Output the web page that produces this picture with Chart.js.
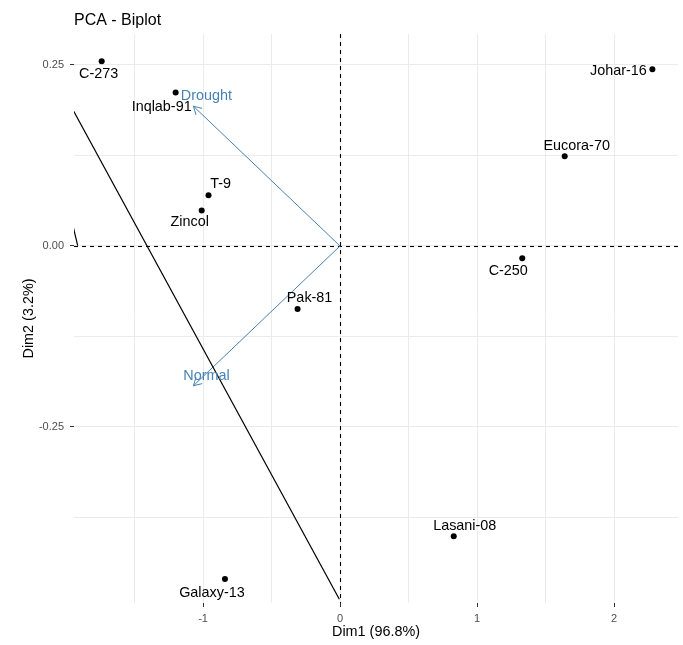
<!DOCTYPE html>
<html>
<head>
<meta charset="utf-8">
<script src="https://cdn.jsdelivr.net/npm/chart.js@4/dist/chart.umd.min.js"></script>
<style>
  html, body { margin: 0; padding: 0; background: #ffffff; }
  #wrap { width: 683px; height: 645px; position: relative; }
</style>
</head>
<body>
<div id="wrap"><canvas id="biplot" width="683" height="645"></canvas></div>
<script>
// Individuals (genotypes) scores on the first two principal components
const genotypes = ['C-273', 'Inqlab-91', 'T-9', 'Zincol', 'Johar-16', 'Eucora-70', 'C-250', 'Pak-81', 'Galaxy-13', 'Lasani-08'];
const dim1 = [-1.74, -1.20, -0.96, -1.01, 2.28, 1.64, 1.33, -0.31, -0.84, 0.83];
const dim2 = [0.255, 0.212, 0.070, 0.049, 0.244, 0.124, -0.017, -0.087, -0.460, -0.401];

// Variable loadings (arrows from the origin)
const variables = ['Drought', 'Normal'];
const varDim1 = [-1.07, -1.07];
const varDim2 = [0.193, -0.193];

// Pieces of the correlation circle that fall inside the panel
const arcMainX = [-1.947, -0.005];
const arcMainY = [0.187, -0.488];
const arcShortX = [-1.947, -1.915];
const arcShortY = [0.026, 0.0004];

// Axis ticks (gridlines at every value, labels only where given)
const xTicks = [-1.5, -1, -0.5, 0, 0.5, 1, 1.5, 2];
const xTickLabels = ['', '-1', '', '0', '', '1', '', '2'];
const yTicks = [-0.375, -0.25, -0.125, 0, 0.125, 0.25];
const yTickLabels = ['', '-0.25', '', '0.00', '', '0.25'];

const xRange = [-1.942, 2.467];
const yRange = [-0.4931, 0.2928];

const FONT = '"Liberation Sans", Arial, Helvetica, sans-serif';
const ARROW_COLOR = '#4682B4';

// Text placement of each genotype label relative to its point (px)
const labelShift = {
  'C-273': [-3, 13], 'Inqlab-91': [-14, 15], 'T-9': [12, -11], 'Zincol': [-12, 12],
  'Johar-16': [-34, 2], 'Eucora-70': [12, -10], 'C-250': [-14, 13], 'Pak-81': [12, -11],
  'Galaxy-13': [-13, 14], 'Lasani-08': [11, -10]
};
const varLabelShift = { 'Drought': [13, -10], 'Normal': [13, -10] };

const pairs = (xs, ys) => xs.map((x, i) => ({ x: x, y: ys[i] }));

const biplotPlugin = {
  id: 'biplotDecor',
  beforeDatasetsDraw(chart) {
    const { ctx, chartArea: a, scales: { x, y } } = chart;
    ctx.save();
    // dashed reference lines through the origin
    ctx.strokeStyle = '#000';
    ctx.lineWidth = 1.1;
    ctx.setLineDash([4, 4]);
    const x0 = Math.round(x.getPixelForValue(0)) + 0.5;
    const y0 = Math.round(y.getPixelForValue(0)) + 0.5;
    ctx.beginPath(); ctx.moveTo(a.left, y0); ctx.lineTo(a.right, y0); ctx.stroke();
    ctx.beginPath(); ctx.moveTo(x0, a.top); ctx.lineTo(x0, a.bottom); ctx.stroke();
    ctx.setLineDash([]);

    // loading arrows
    ctx.strokeStyle = ARROW_COLOR;
    ctx.lineWidth = 1;
    const ox = x.getPixelForValue(0), oy = y.getPixelForValue(0);
    variables.forEach((v, i) => {
      const tx = x.getPixelForValue(varDim1[i]);
      const ty = y.getPixelForValue(varDim2[i]);
      ctx.beginPath(); ctx.moveTo(ox, oy); ctx.lineTo(tx, ty); ctx.stroke();
      const ang = Math.atan2(ty - oy, tx - ox);
      const len = 9, spread = Math.PI / 6;
      ctx.beginPath();
      ctx.moveTo(tx - len * Math.cos(ang - spread), ty - len * Math.sin(ang - spread));
      ctx.lineTo(tx, ty);
      ctx.lineTo(tx - len * Math.cos(ang + spread), ty - len * Math.sin(ang + spread));
      ctx.stroke();
    });
    ctx.restore();
  },
  afterDatasetsDraw(chart) {
    const { ctx, chartArea: a, scales: { x, y } } = chart;
    ctx.save();
    ctx.font = '14.4px ' + FONT;
    ctx.textAlign = 'center';
    ctx.textBaseline = 'middle';
    ctx.fillStyle = '#000';
    genotypes.forEach((g, i) => {
      const s = labelShift[g];
      ctx.fillText(g, x.getPixelForValue(dim1[i]) + s[0], y.getPixelForValue(dim2[i]) + s[1]);
    });
    ctx.fillStyle = ARROW_COLOR;
    variables.forEach((v, i) => {
      const s = varLabelShift[v];
      ctx.fillText(v, x.getPixelForValue(varDim1[i]) + s[0], y.getPixelForValue(varDim2[i]) + s[1]);
    });

    // titles
    ctx.fillStyle = '#000';
    ctx.font = '16px ' + FONT;
    ctx.textAlign = 'left';
    ctx.textBaseline = 'alphabetic';
    ctx.fillText('PCA - Biplot', 74, 25);

    ctx.font = '14.4px ' + FONT;
    ctx.textAlign = 'center';
    ctx.textBaseline = 'middle';
    ctx.fillText('Dim1 (96.8%)', (a.left + a.right) / 2, 632);
    ctx.translate(29, (a.top + a.bottom) / 2);
    ctx.rotate(-Math.PI / 2);
    ctx.fillText('Dim2 (3.2%)', 0, 0);
    ctx.restore();
  }
};

const tickMarkColor = (labels, ticks) => (c) => {
  if (!c.tick) return 'rgba(0,0,0,0)';
  const k = ticks.indexOf(c.tick.value);
  return k >= 0 && labels[k] !== '' ? '#333333' : 'rgba(0,0,0,0)';
};

new Chart(document.getElementById('biplot'), {
  type: 'scatter',
  data: {
    datasets: [
      {
        type: 'line', data: pairs(arcMainX, arcMainY),
        borderColor: '#000', borderWidth: 1.2, pointRadius: 0, fill: false, tension: 0
      },
      {
        type: 'line', data: pairs(arcShortX, arcShortY),
        borderColor: '#000', borderWidth: 1.2, pointRadius: 0, fill: false, tension: 0
      },
      {
        data: pairs(dim1, dim2),
        backgroundColor: '#000', borderColor: '#000', pointRadius: 3, pointHoverRadius: 3, borderWidth: 0
      }
    ]
  },
  options: {
    responsive: false,
    animation: false,
    events: [],
    layout: { padding: { left: 0, right: 5, top: 34, bottom: 0 } },
    plugins: { legend: { display: false }, tooltip: { enabled: false }, title: { display: false } },
    scales: {
      x: {
        type: 'linear', min: xRange[0], max: xRange[1],
        afterBuildTicks: (s) => { s.ticks = xTicks.map(v => ({ value: v })); },
        afterFit: (s) => { s.height = 42; },
        border: { display: false },
        grid: { color: '#ebebeb', lineWidth: 1, drawTicks: true, tickLength: 4, tickColor: tickMarkColor(xTickLabels, xTicks) },
        ticks: {
          autoSkip: false, maxRotation: 0, padding: 5, color: '#4d4d4d',
          font: { family: FONT, size: 11 },
          callback: (v) => { const k = xTicks.indexOf(v); return k >= 0 ? xTickLabels[k] : ''; }
        }
      },
      y: {
        type: 'linear', min: yRange[0], max: yRange[1],
        afterBuildTicks: (s) => { s.ticks = yTicks.map(v => ({ value: v })); },
        afterFit: (s) => { s.width = 74; },
        border: { display: false },
        grid: { color: '#ebebeb', lineWidth: 1, drawTicks: true, tickLength: 4, tickColor: tickMarkColor(yTickLabels, yTicks) },
        ticks: {
          autoSkip: false, padding: 6, color: '#4d4d4d',
          font: { family: FONT, size: 11 },
          callback: (v) => { const k = yTicks.indexOf(v); return k >= 0 ? yTickLabels[k] : ''; }
        }
      }
    }
  },
  plugins: [biplotPlugin]
});
</script>
</body>
</html>
